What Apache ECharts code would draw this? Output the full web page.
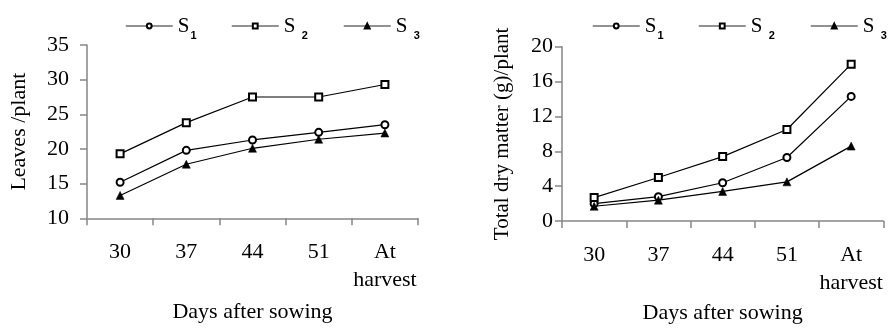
<!DOCTYPE html>
<html>
<head>
<meta charset="utf-8">
<script src="https://cdn.jsdelivr.net/npm/echarts@6/dist/echarts.min.js"></script>
<style>
html,body{margin:0;padding:0;background:#fff;}
#c{width:890px;height:329px;}
</style>
</head>
<body>
<div id="c"></div>
<script>
const categories = ['30', '37', '44', '51', 'At\nharvest'];
const seriesNames = ['S1', 'S2', 'S3'];
const leavesS1 = [15.2, 19.8, 21.3, 22.4, 23.5];
const leavesS2 = [19.3, 23.8, 27.5, 27.5, 29.3];
const leavesS3 = [13.3, 17.8, 20.1, 21.4, 22.3];
const dryS1 = [2.0, 2.8, 4.4, 7.3, 14.3];
const dryS2 = [2.7, 5.0, 7.4, 10.5, 18.0];
const dryS3 = [1.7, 2.4, 3.4, 4.5, 8.6];
const leftYTitle = 'Leaves /plant';
const rightYTitle = 'Total dry matter (g)/plant';
const xTitle = 'Days after sowing';

const SERIF = 'Liberation Serif';
const AXIS = '#868686';
const symbols = {
  S1: {symbol: 'circle', symbolSize: 7, itemStyle: {color: '#fff', borderColor: '#000', borderWidth: 2}},
  S2: {symbol: 'rect', symbolSize: 7, itemStyle: {color: '#fff', borderColor: '#000', borderWidth: 2}},
  S3: {symbol: 'triangle', symbolSize: 8, itemStyle: {color: '#000', borderColor: '#000', borderWidth: 0.5}}
};

function makeSeries(name, data, idx) {
  return Object.assign({
    name: name, type: 'line', data: data,
    xAxisIndex: idx, yAxisIndex: idx,
    lineStyle: {color: '#000', width: 1.2},
    showAllSymbol: true, animation: false, z: 3
  }, symbols[name]);
}

function legendLabel(name) {
  const d = name.slice(1);
  return name === 'S1' ? '{s|S}{sub|' + d + '}' : '{s|S }{sub|' + d + '}';
}

function makeLegend(name, left) {
  return {
    data: [name], left: left, top: 16, orient: 'horizontal', padding: 0,
    itemWidth: 47, itemHeight: 6, itemGap: 0,
    lineStyle: {color: '#6e6e6e', width: 1.5},
    selectedMode: false,
    formatter: legendLabel,
    textStyle: {
      rich: {
        s: {fontFamily: SERIF, fontSize: 21, color: '#000', verticalAlign: 'bottom', lineHeight: 22},
        sub: {fontFamily: 'Liberation Sans', fontSize: 11, fontWeight: 'bold', color: '#000', verticalAlign: 'bottom', lineHeight: 14, padding: [0, 0, -4, 1]}
      }
    }
  };
}

function xAxis(idx) {
  return {
    type: 'category', gridIndex: idx, data: categories, boundaryGap: true,
    axisLine: {lineStyle: {color: AXIS, width: 1.5}},
    axisTick: {show: true, length: 7, inside: false, lineStyle: {color: AXIS, width: 1.5}},
    axisLabel: {interval: 0, fontFamily: SERIF, fontSize: 22, color: '#000', margin: 20, lineHeight: 28},
    name: xTitle, nameLocation: 'middle', nameGap: idx === 0 ? 83 : 80,
    nameTextStyle: {fontFamily: SERIF, fontSize: 22, color: '#000'},
    splitLine: {show: false}
  };
}

function yAxis(idx, min, max, interval, title, gap, margin, nameSize) {
  return {
    type: 'value', gridIndex: idx, min: min, max: max, interval: interval,
    axisLine: {show: true, lineStyle: {color: AXIS, width: 1.5}},
    axisTick: {show: true, length: 7, lineStyle: {color: AXIS, width: 1.5}},
    axisLabel: {fontFamily: SERIF, fontSize: 22, color: '#000', margin: margin},
    splitLine: {show: false},
    name: title, nameLocation: 'middle', nameGap: gap, nameRotate: 90,
    nameTextStyle: {fontFamily: SERIF, fontSize: nameSize, color: '#000'}
  };
}

const chart = echarts.init(document.getElementById('c'), null, {renderer: 'canvas'});
chart.setOption({
  animation: false,
  backgroundColor: '#fff',
  legend: [
    makeLegend('S1', 125), makeLegend('S2', 231), makeLegend('S3', 343),
    makeLegend('S1', 592), makeLegend('S2', 698), makeLegend('S3', 810)
  ],
  grid: [
    {left: 87, right: 472, top: 45, bottom: 110.7},
    {left: 562, right: 6.7, top: 46.7, bottom: 100.3}
  ],
  xAxis: [xAxis(0), xAxis(1)],
  yAxis: [
    yAxis(0, 10, 35, 5, leftYTitle, 57, 18, 22),
    yAxis(1, 0, 20, 4, rightYTitle, 49, 9, 21)
  ],
  series: [
    makeSeries('S1', leavesS1, 0), makeSeries('S2', leavesS2, 0), makeSeries('S3', leavesS3, 0),
    makeSeries('S1', dryS1, 1), makeSeries('S2', dryS2, 1), makeSeries('S3', dryS3, 1)
  ]
});
</script>
</body>
</html>
